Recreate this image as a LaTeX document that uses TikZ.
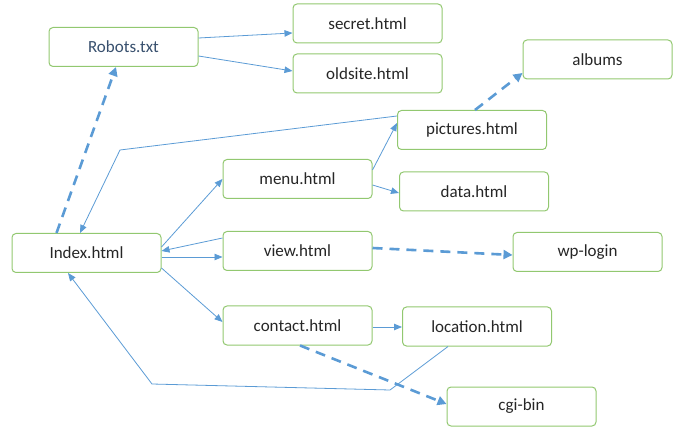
\documentclass[tikz,border=0pt]{standalone}
\usepackage{fontspec}
\setmainfont{Carlito}
\usepackage{tikz}
\usetikzlibrary{arrows.meta}
\definecolor{boxgreen}{RGB}{146,200,112}
\definecolor{linkblue}{RGB}{91,155,213}
\definecolor{txtgray}{RGB}{38,38,38}
\definecolor{txtblue}{RGB}{56,80,110}
\tikzset{%
  page/.style  = {shape=rectangle, rounded corners=4pt, draw=boxgreen,%
                  line width=1pt, fill=white, text=txtgray,%
                  minimum width=149pt, minimum height=39pt, inner sep=0pt,%
                  font=\fontsize{17}{20}\selectfont},%
  link/.style  = {draw=linkblue, line width=0.8pt,%
                  -{Triangle[length=8pt,width=6.5pt]}},%
  crawl/.style = {draw=linkblue, line width=2.6pt, dash pattern=on 10pt off 7pt,%
                  -{Triangle[length=9pt,width=9pt]}}%
}

\begin{document}
\begin{tikzpicture}
              [x=1pt, y=-1pt]
              \useasboundingbox (0,0) rectangle (682,427);
              % -------------- pages --------------------------------------
              \node [page, text=txtblue] (robots) at (123.5,47) {Robots.txt};
              \node [page] (secret)   at (367.5,23.5) {secret.html};
              \node [page] (oldsite)  at (367.5,73.5) {oldsite.html};
              \node [page] (albums)   at (597.5,59.5) {albums};
              \node [page] (pictures) at (472,130)    {pictures.html};
              \node [page] (menu)     at (297.5,179)  {menu.html};
              \node [page] (data)     at (474,191.5)  {data.html};
              \node [page] (index)    at (86.5,253)   {Index.html};
              \node [page] (view)     at (297.5,251)  {view.html};
              \node [page] (wplogin)  at (587.5,252)  {wp-login};
              \node [page] (contact)  at (297.5,325.5) {contact.html};
              \node [page] (location) at (477,326.5)  {location.html};
              \node [page] (cgibin)   at (521.5,406.5) {cgi-bin};
              % -------------- bends of the back links --------------------
              \coordinate (picbend) at (120,150);
              \coordinate (locbendA) at (390,390);
              \coordinate (locbendB) at (152,384);
              % -------------- links --------------------------------------
              \draw[link] ([yshift=9pt]robots.east) -- ([yshift=-9.5pt]secret.west);
              \draw[link] ([yshift=-9pt]robots.east) -- ([yshift=2.5pt]oldsite.west);
              \draw[link] ([yshift=14pt]pictures.west) -- (picbend)
                -- ([xshift=-6.5pt]index.north);
              \draw[link] ([yshift=6pt]index.east) -- (menu.west);
              \draw[link] ([yshift=13pt]view.west) -- ([yshift=2pt]index.east);
              \draw[link] ([yshift=-4pt]index.east) -- ([yshift=-6pt]view.west);
              \draw[link] ([yshift=-15pt]index.east) -- ([yshift=3.5pt]contact.west);
              \draw[link] ([yshift=9pt]menu.east) -- ([yshift=7pt]pictures.west);
              \draw[link] ([yshift=-6pt]menu.east) -- ([yshift=-1.5pt]data.west);
              \draw[link] ([yshift=-1.5pt]contact.east) -- ([yshift=-0.5pt]location.west);
              \draw[link] ([xshift=-29pt]location.south) -- (locbendA) -- (locbendB)
                -- ([xshift=-18.5pt]index.south);
              % -------------- crawled, not linked ------------------------
              \draw[crawl] ([xshift=-30pt]index.north) -- ([xshift=-7.5pt]robots.south);
              \draw[crawl] ([xshift=3pt]pictures.north) -- ([yshift=-13.5pt]albums.west);
              \draw[crawl] ([yshift=3pt]view.east) -- ([yshift=-3pt]wplogin.west);
              \draw[crawl] ([xshift=2.5pt]contact.south) -- ([yshift=2.5pt]cgibin.west);
\end{tikzpicture}
\end{document}
